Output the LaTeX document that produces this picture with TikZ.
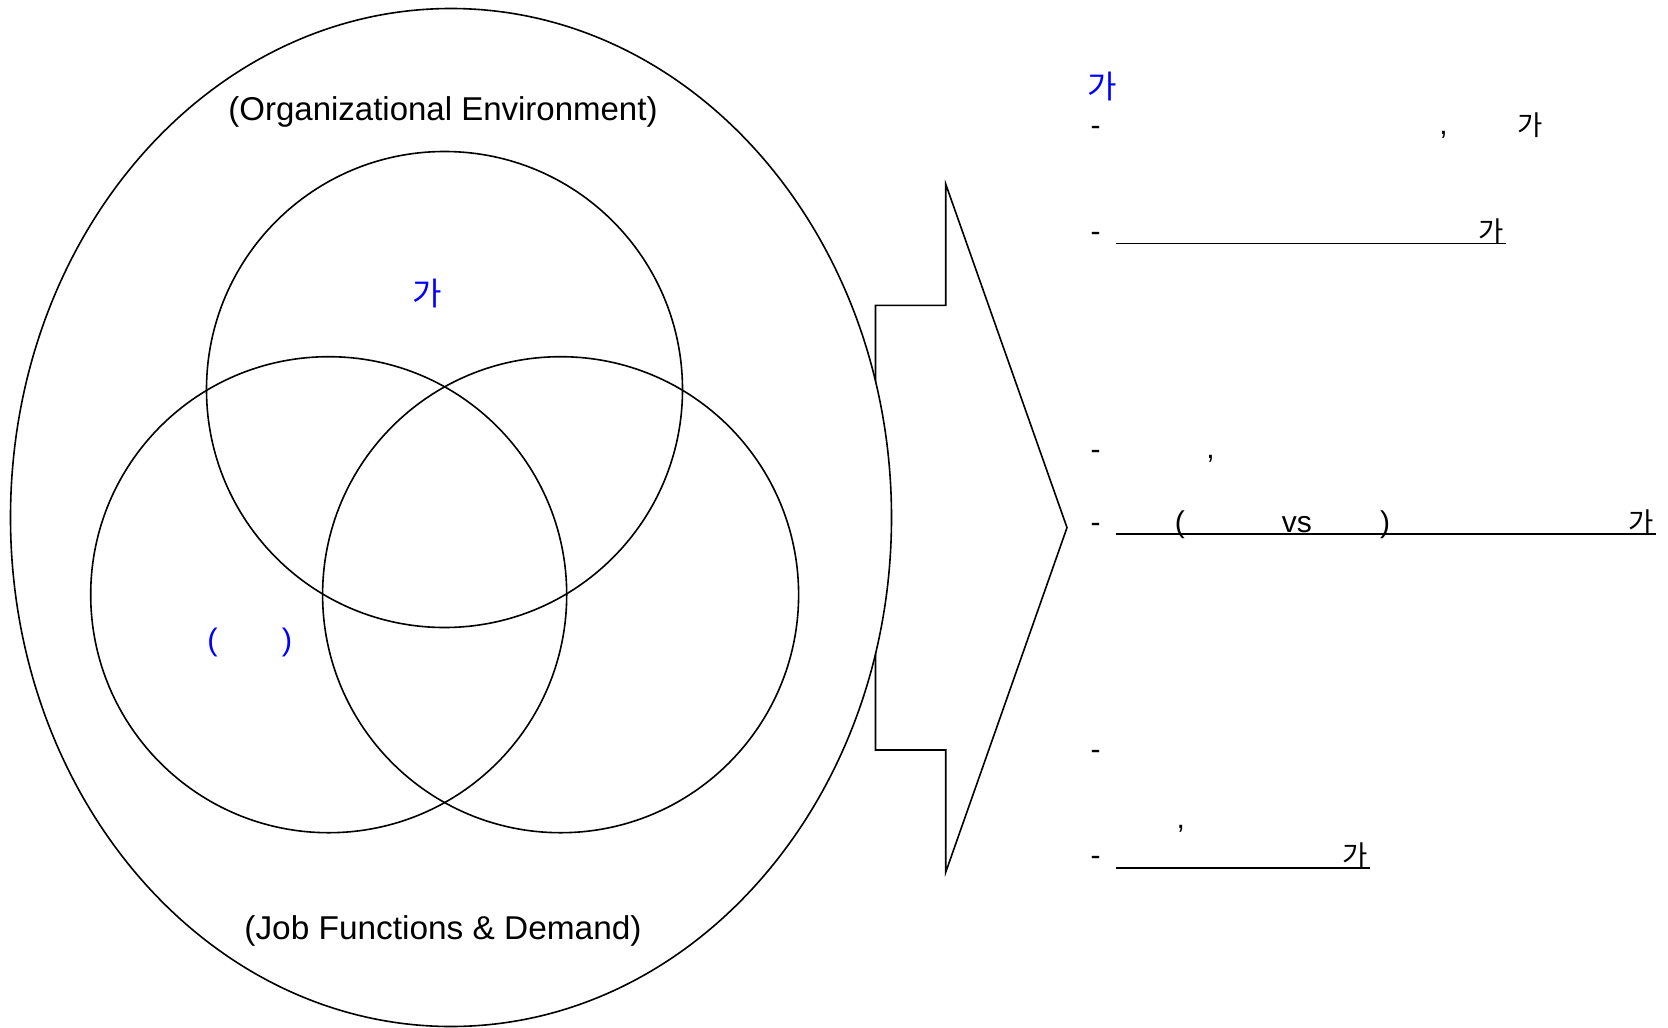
\documentclass[tikz,border=0pt]{standalone}
\usepackage{fontspec}
\setmainfont{Liberation Sans}
\newfontfamily\cjk{Noto Sans CJK KR}
\usetikzlibrary{shapes.geometric}
\definecolor{txtblue}{RGB}{0,0,255}
\begin{document}
\begin{tikzpicture}[x=1pt,y=-1pt,
  outline/.style={draw, line width=1.6pt, inner sep=0pt},
  ring/.style={outline, circle, minimum size=476pt},
  lbl/.style={inner sep=0pt, anchor=base, font=\fontsize{33}{36}\selectfont},
  rt/.style={inner sep=0pt, anchor=base, font=\fontsize{30}{32}\selectfont},
  rtb/.style={rt, text=txtblue, font=\fontsize{31}{33}\selectfont},
  ko/.style={inner sep=0pt, anchor=base, font=\cjk\fontsize{27.5}{30}\selectfont},
  kob/.style={inner sep=0pt, anchor=base, text=txtblue, font=\cjk\fontsize{32}{34}\selectfont},
  uline/.style={line width=1.6pt},
  arrowline/.style={line width=1.6pt, line join=miter},
]
\useasboundingbox (0,0) rectangle (1668,1028);

% block arrow (drawn first; the ellipse covers its left end)
\coordinate (a1) at (875.5,305.3);
\coordinate (a2) at (945.7,305.3);
\coordinate (a3) at (945.7,184);
\coordinate (a4) at (1067,527.6);
\coordinate (a5) at (945.7,872.3);
\coordinate (a6) at (945.7,750);
\coordinate (a7) at (875.5,750);
\draw[arrowline] (a1) -- (a2) -- (a3) -- (a4) -- (a5) -- (a6) -- (a7) -- cycle;

% outer ellipse and three circles
\node[outline, fill=white, ellipse, minimum width=881pt, minimum height=1018pt] (env) at (451,517.5) {};
\node[ring] (ctop) at (444.5,389.5) {};
\node[ring] (cleft) at (328.7,594.7) {};
\node[ring] (cright) at (560.6,594.7) {};

% labels on the left
\node[lbl] (orgenv) at (443,120) {(Organizational Environment)};
\node[lbl] (jobfn) at (443,939) {\scalebox{1.012}[1]{(Job Functions \& Demand)}};
\node[kob] (ktop) at (427.7,305) {가};
\node[rtb] (lpar) at (212.5,650) {(};
\node[rtb] (rpar) at (287,650) {)};

% right side text
\node[kob] (khead) at (1102,98) {가};

\node[rt] (d1) at (1095.7,135) {-};
\node[rt] (c1) at (1443.6,134) {,};
\node[ko] (k1) at (1530.5,135.5) {가};

\node[rt] (d2) at (1095.7,241) {-};
\node[ko] (k2) at (1491.5,241) {가};
\coordinate (u2a) at (1116,243.6);
\coordinate (u2b) at (1506,243.6);
\draw[uline] (u2a) -- (u2b);

\node[rt] (d3) at (1095.7,459) {-};
\node[rt] (c3) at (1210.6,458) {,};

\node[rt] (d4) at (1095.7,532.5) {-};
\node[rt] (p4a) at (1179.8,532.5) {(};
\node[rt] (vs4) at (1296.8,532.5) {vs};
\node[rt] (p4b) at (1385,532.5) {)};
\node[ko] (k4) at (1641.5,532) {가};
\coordinate (u4a) at (1116,534);
\coordinate (u4b) at (1656,534);
\draw[uline] (u4a) -- (u4b);

\node[rt] (d5) at (1095.7,759) {-};
\node[rt] (c6) at (1180.8,828) {,};

\node[rt] (d7) at (1095.7,865.4) {-};
\node[ko] (k7) at (1355,865.3) {가};
\coordinate (u7a) at (1116,868);
\coordinate (u7b) at (1370,868);
\draw[uline] (u7a) -- (u7b);
\end{tikzpicture}
\end{document}
